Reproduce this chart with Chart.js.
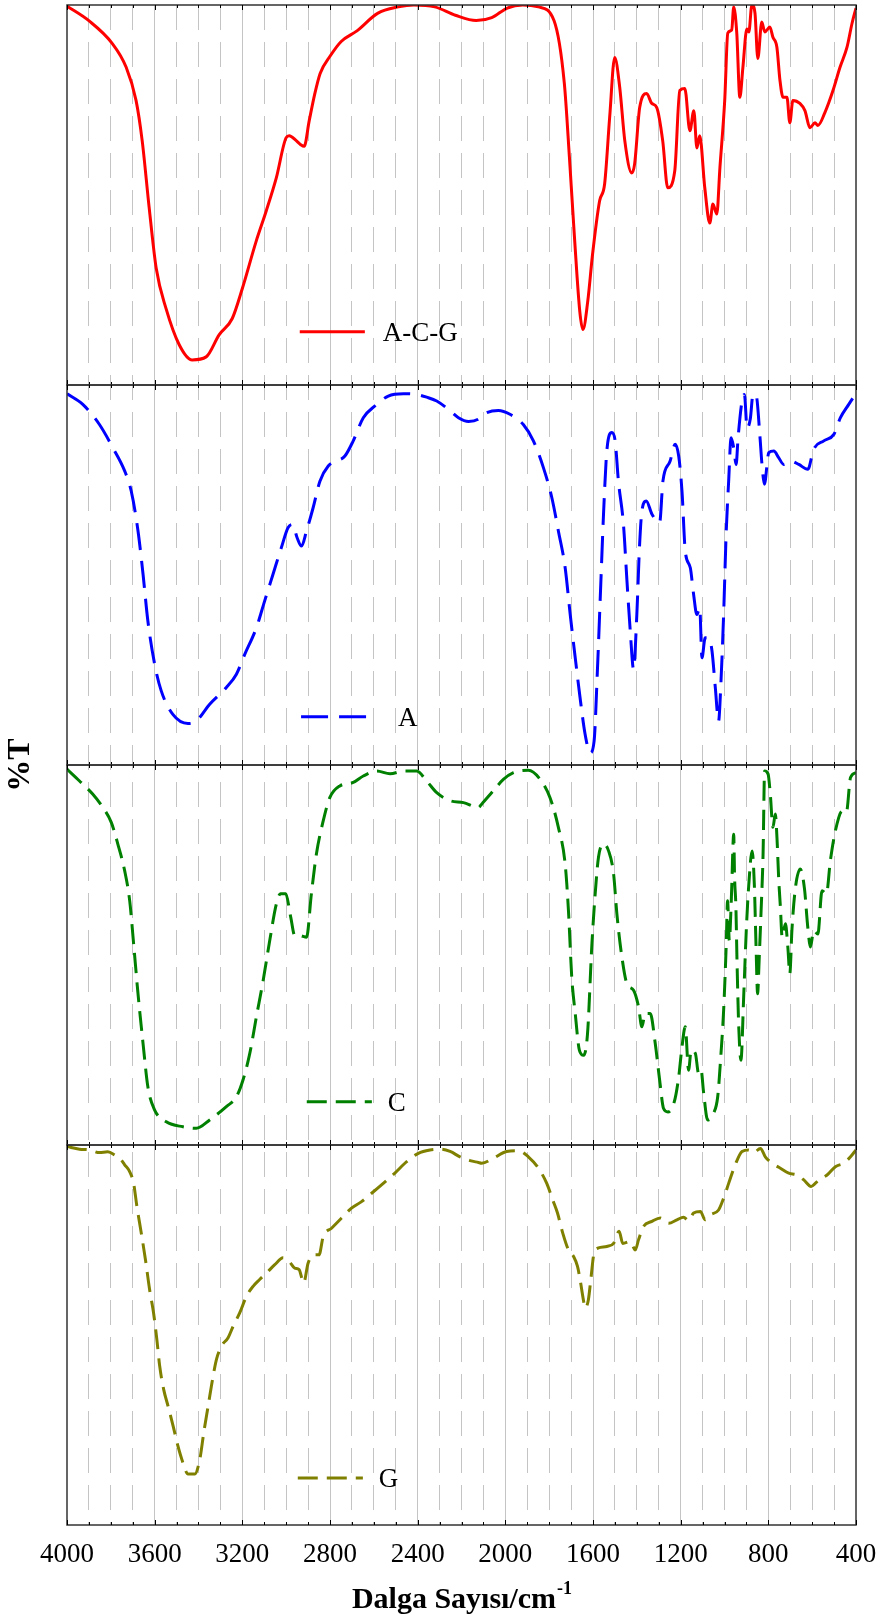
<!DOCTYPE html>
<html>
<head>
<meta charset="utf-8">
<script src="https://cdn.jsdelivr.net/npm/chart.js@4.4.1/dist/chart.umd.min.js"></script>
<style>
html, body { margin: 0; padding: 0; background: #fff; }
#wrap { position: relative; width: 886px; height: 1624px; }
</style>
</head>
<body>
<div id="wrap"><canvas id="irChart" width="886" height="1624"></canvas></div>
<script>
// series names (top to bottom)
var names = ['A-C-G', 'A', 'C', 'G'];

// A-C-G (red)
var acgWn = [4000,3899,3794,3730,3685,3657,3625,3593,3548,3488,3429,3365,3306,3246,3200,3137,3091,3045,3000,2986,2954,2935,2918,2895,2870,2845,2800,2749,2677,2583,2488,2417,2322,2228,2133,2062,1991,1920,1849,1778,1731,1708,1684,1660,1646,1624,1602,1570,1547,1524,1501,1478,1455,1423,1410,1387,1355,1332,1309,1282,1259,1227,1204,1181,1158,1140,1126,1113,1090,1067,1053,1035,1021,999,985,967,958,944,930,916,898,889,875,861,848,830,816,793,779,761,747,733,715,702,688,656,633,610,587,574,542,505,473,441,418,400];
var acgT = [99.7,95.8,89.9,83.6,74.9,64.3,46.6,30.7,20.1,10.6,6.6,7.4,13.2,17.5,25.4,37.8,45.8,54.5,65.1,65.6,64.3,63.3,62.8,69.5,76.5,82,86.5,90.4,93.2,97.8,99.5,100,99.5,97.3,95.9,96.7,99.2,100,99.5,95.9,79.5,60.3,38.4,19.2,14.6,22,34.4,48.4,52.9,70.4,86.2,78.3,64.3,55.8,58.2,73.0,76.7,74.1,73.0,64.3,51.9,56.3,77.5,78.0,66.9,72.2,62.4,65.6,51.9,42.6,47.6,45.0,57.1,74.9,92.6,93.4,99.5,92.6,75.7,83.6,93.7,92.9,100,97.9,85.9,95.5,92.9,94.2,91.5,88.9,80.2,75.7,75.7,69.0,74.9,74.1,72.2,67.7,69.0,68.3,71.7,77.5,83.6,88.9,95.2,99.2];

// A (blue)
var aWn = [4000,3928,3852,3791,3737,3707,3676,3653,3631,3600,3570,3517,3448,3410,3349,3273,3227,3189,3136,3098,3060,3022,2991,2971,2950,2930,2907,2877,2846,2808,2770,2732,2694,2648,2595,2534,2465,2405,2359,2313,2260,2214,2168,2123,2100,2032,1979,1918,1872,1826,1788,1758,1727,1704,1681,1659,1636,1613,1595,1580,1564,1552,1537,1514,1499,1484,1461,1445,1430,1415,1400,1388,1377,1357,1331,1296,1281,1248,1225,1209,1194,1179,1156,1141,1126,1113,1103,1088,1072,1057,1042,1027,1016,1004,992,981,970,958,947,938,920,909,897,882,870,855,839,829,818,798,775,753,730,699,661,620,593,547,501,471,433,400];
var aT = [97.7,94.9,89.6,83.5,77.4,72.1,61.6,50.2,37.9,26.5,19.5,13.3,10.9,11.6,16.0,20.4,23.9,29.1,36.1,43.2,50.2,57.2,62.5,63.3,59.8,57.6,61.6,67.7,74.7,78.7,80.0,81.3,85.3,91.4,94.5,97.1,97.7,97.5,96.8,95.8,93.6,91.4,90.4,91.0,92.3,93.3,92.3,89.6,85.3,78.2,70.4,61.6,51.9,39.6,28.2,17.7,8.1,3.2,6.3,24.7,48.4,66.0,82.6,87.5,85.3,74.7,63.3,48.4,35.3,25.2,39.6,57.2,66.8,69.5,66.0,63.8,74.7,80.0,84.4,81.3,72.1,56.3,51.9,44.9,39.6,41.4,28.2,33.5,33.5,30.0,20.4,11.6,22.1,39.6,61.6,74.7,86.1,83.5,79.1,86.1,95.8,97.5,88.6,91.2,97.5,97.1,87.0,79.1,73.9,82.2,82.6,80.9,79.1,80.0,79.1,77.8,83.1,85.3,87.0,91.4,94.9,97.8];

// C (green)
var cWn = [4000,3943,3882,3836,3798,3768,3737,3714,3696,3676,3653,3631,3600,3547,3471,3410,3349,3273,3227,3197,3166,3136,3105,3075,3045,3026,3002,2979,2961,2938,2907,2885,2862,2831,2801,2755,2694,2648,2587,2526,2465,2405,2359,2313,2252,2191,2123,2108,2055,2009,1963,1895,1841,1796,1758,1727,1712,1697,1681,1662,1643,1625,1605,1590,1575,1552,1529,1506,1491,1468,1445,1415,1392,1377,1362,1339,1316,1296,1278,1258,1229,1209,1194,1179,1164,1152,1133,1118,1107,1095,1077,1050,1031,1016,1004,992,986,978,969,958,954,948,943,935,925,912,900,890,874,864,856,849,842,833,824,817,801,791,779,768,760,753,745,737,722,711,702,692,677,654,635,620,608,593,574,555,535,517,494,463,444,425,400];
var cT = [98.9,95.8,92.3,88.8,84.9,79.2,72.2,64.3,52.9,39.8,26.7,15.3,9.2,6.1,4.8,4.4,6.6,10.1,12.7,17.1,24.1,33.7,43.3,53.8,63.4,66.1,66.1,59.9,55.1,55.1,54.7,66.1,76.6,85.3,91.4,94.5,95.4,97.1,98.4,97.7,98.4,98.4,95.8,92.7,90.6,90.1,88.8,89.7,93.2,96.2,98.0,98.6,96.2,91.4,83.6,73.9,61.7,44.2,34.6,24.9,23.6,29.3,52.9,66.1,75.7,79.2,77.4,71.3,60.8,49.4,42.4,40.7,36.3,31.1,34.6,34.6,26.7,17.1,9.6,8.7,11.4,17.9,25.8,31.1,19.7,24.9,24.1,18.8,19.7,13.6,6.6,8.3,12.7,24.1,35.4,52.9,64.3,53.8,64.3,81.8,70.5,62.6,48.6,31.1,22.3,39.8,57.3,67.8,77.4,68.7,52.1,39.8,48.6,61.7,76.6,98.4,97.6,92.3,83.6,87.1,80.1,70.4,62.6,54.7,58.2,52.1,45.1,56.9,67.4,72.6,67.4,57.3,52.1,56.4,55.5,66.9,66.1,74.8,82.7,87.9,87.5,96.7,98.0];

// G (olive)
var gWn = [4000,3943,3897,3852,3814,3783,3753,3737,3714,3696,3681,3661,3642,3623,3605,3590,3577,3559,3539,3516,3494,3471,3448,3417,3394,3376,3356,3336,3318,3295,3265,3242,3212,3181,3151,3121,3090,3052,3014,2987,2961,2941,2920,2900,2869,2850,2831,2793,2747,2702,2656,2610,2557,2504,2450,2397,2344,2298,2252,2207,2161,2123,2108,2055,1994,1940,1895,1849,1811,1784,1762,1738,1712,1689,1671,1659,1644,1636,1621,1610,1595,1575,1537,1506,1481,1464,1430,1407,1392,1369,1331,1293,1255,1217,1187,1164,1141,1110,1088,1065,1027,1004,981,951,920,890,867,836,814,783,745,707,669,638,605,570,532,494,456,425,400];
var gT = [99.6,98.9,98.7,98.0,98.2,97.4,96.1,94.8,93.0,89.9,83.8,76.8,69.8,61.9,55.8,48.8,41.8,35.7,31.3,26.1,20.8,16.4,13.4,13.4,17.3,24.3,31.3,38.3,43.6,47.1,49.3,52.3,55.8,60.2,62.8,64.6,66.3,68.5,70.3,69.4,67.6,67.2,63.7,68.9,71.1,71.1,75.9,78.1,80.8,83.4,85.1,87.3,89.9,92.6,95.6,97.8,98.7,98.9,98.3,96.9,95.9,95.4,95.2,96.5,98.3,98.5,96.9,93.9,89.9,85.6,82.1,76.8,72.4,70.7,68.1,64.6,59.3,57.1,59.3,64.6,71.6,72.9,73.3,74.1,77.3,74.1,74.6,72.4,75.1,78.6,79.9,80.8,79.4,80.3,81.0,80.1,82.1,82.5,80.3,81.6,82.9,86.0,89.9,94.8,98.3,98.7,98.0,99.1,96.9,95.2,93.9,92.6,92.1,90.8,89.1,90.8,92.1,94.3,95.2,96.9,98.7];

// x axis
var xMin = 400, xMax = 4000, xStep = 100, xLabelStep = 400;

var panelAxes = ['y1', 'y2', 'y3', 'y4'];
var colors = ['#ff0000', '#0000ff', '#008000', '#808000'];
var dashes = [[], [27, 11], [20, 9], [20, 9]];
// legend sample: [wn start, wn end, wn of text, %T level]
var legendPos = [[2938, 2641, 2559, 14.0], [2932, 2632, 2490, 12.7], [2906, 2609, 2536, 11.4], [2947, 2650, 2577, 12.4]];

function pts(wn, t) {
	return wn.map(function(w, i) { return { x: w, y: t[i] }; });
}

var series = [pts(acgWn, acgT), pts(aWn, aT), pts(cWn, cT), pts(gWn, gT)];

var datasets = series.map(function(d, i) {
	return {
		label: names[i],
		data: d,
		yAxisID: panelAxes[i],
		borderColor: colors[i],
		borderWidth: 3,
		borderDash: dashes[i],
		pointRadius: 0,
		fill: false,
		cubicInterpolationMode: 'monotone'
	};
});

function panelScale() {
	return {
		type: 'linear', position: 'left', stack: 'ir', stackWeight: 1,
		min: 0, max: 100,
		grid: { display: false, drawTicks: false },
		border: { display: false },
		ticks: { display: false }
	};
}

var scales = {
	x: {
		type: 'linear', reverse: true, min: xMin, max: xMax,
		afterBuildTicks: function(scale) {
			var t = [];
			for (var v = xMin; v <= xMax; v += xStep) t.push({ value: v });
			scale.ticks = t;
		},
		afterFit: function(scale) { scale.height = 99; },
		grid: {
			drawTicks: false,
			lineWidth: 1,
			color: function(c) {
				if (!c.tick) return 'rgba(0,0,0,0)';
				var v = c.tick.value;
				if (v === xMin || v === xMax) return 'rgba(0,0,0,0)';
				return '#c4c4c4';
			}
		},
		border: {
			display: false,
			dash: function(c) {
				if (c.tick && c.tick.value % xLabelStep !== 0) return [25, 12];
				return [];
			}
		},
		ticks: {
			autoSkip: false, maxRotation: 0, padding: 14, color: '#000',
			font: { family: 'Liberation Serif', size: 27 },
			callback: function(v) { return v % xLabelStep === 0 ? String(v) : ''; }
		}
	}
};
// stacked left axes are laid out bottom-up, so add them in reverse
panelAxes.slice().reverse().forEach(function(id) { scales[id] = panelScale(); });

var irFrame = {
	id: 'irFrame',
	afterDatasetsDraw: function(chart) {
		var ctx = chart.ctx, xs = chart.scales.x, area = chart.chartArea;
		ctx.save();
		panelAxes.forEach(function(id, k) {
			var s = chart.scales[id];
			ctx.setLineDash([]);
			ctx.strokeStyle = '#333';
			ctx.lineWidth = 1.5;
			ctx.strokeRect(area.left, s.top, area.right - area.left, s.bottom - s.top);
			ctx.lineWidth = 1;
			ctx.strokeStyle = '#000';
			ctx.beginPath();
			for (var w = xMin; w <= xMax; w += xStep) {
				var px = Math.round(xs.getPixelForValue(w)) + 0.5;
				var len = (w % xLabelStep === 0) ? 5 : 3;
				ctx.moveTo(px, s.top); ctx.lineTo(px, s.top + len);
				ctx.moveTo(px, s.bottom); ctx.lineTo(px, s.bottom - len);
			}
			ctx.stroke();

			// legend entry
			var lp = legendPos[k];
			var ly = s.getPixelForValue(lp[3]);
			ctx.strokeStyle = colors[k];
			ctx.lineWidth = 3;
			ctx.setLineDash(dashes[k]);
			ctx.beginPath();
			ctx.moveTo(xs.getPixelForValue(lp[0]), ly);
			ctx.lineTo(xs.getPixelForValue(lp[1]), ly);
			ctx.stroke();
			ctx.setLineDash([]);
			ctx.fillStyle = '#000';
			ctx.font = '27px "Liberation Serif"';
			ctx.textAlign = 'left';
			ctx.textBaseline = 'alphabetic';
			ctx.fillText(names[k], xs.getPixelForValue(lp[2]), ly + 9);
		});

		// y title
		ctx.fillStyle = '#000';
		ctx.save();
		ctx.translate(21, (area.top + area.bottom) / 2);
		ctx.rotate(-Math.PI / 2);
		ctx.font = 'bold 32px "Liberation Serif"';
		ctx.textAlign = 'center';
		ctx.textBaseline = 'middle';
		ctx.fillText('%T', 0, 0);
		ctx.restore();

		// x title with superscript
		var main = 'Dalga Sayısı/cm', sup = '-1';
		ctx.font = 'bold 30px "Liberation Serif"';
		var w1 = ctx.measureText(main).width;
		ctx.font = 'bold 18px "Liberation Serif"';
		var w2 = ctx.measureText(sup).width;
		var x0 = (area.left + area.right) / 2 - (w1 + w2) / 2;
		var base = area.bottom + 83;
		ctx.textAlign = 'left';
		ctx.textBaseline = 'alphabetic';
		ctx.font = 'bold 30px "Liberation Serif"';
		ctx.fillText(main, x0, base);
		ctx.font = 'bold 18px "Liberation Serif"';
		ctx.fillText(sup, x0 + w1 + 1, base - 14);
		ctx.restore();
	}
};

new Chart(document.getElementById('irChart'), {
	type: 'line',
	data: { datasets: datasets },
	options: {
		responsive: false,
		devicePixelRatio: 1,
		animation: false,
		layout: { padding: { left: 67, right: 30, top: 5, bottom: 0 } },
		plugins: { legend: { display: false }, tooltip: { enabled: false } },
		scales: scales
	},
	plugins: [irFrame]
});
</script>
</body>
</html>
